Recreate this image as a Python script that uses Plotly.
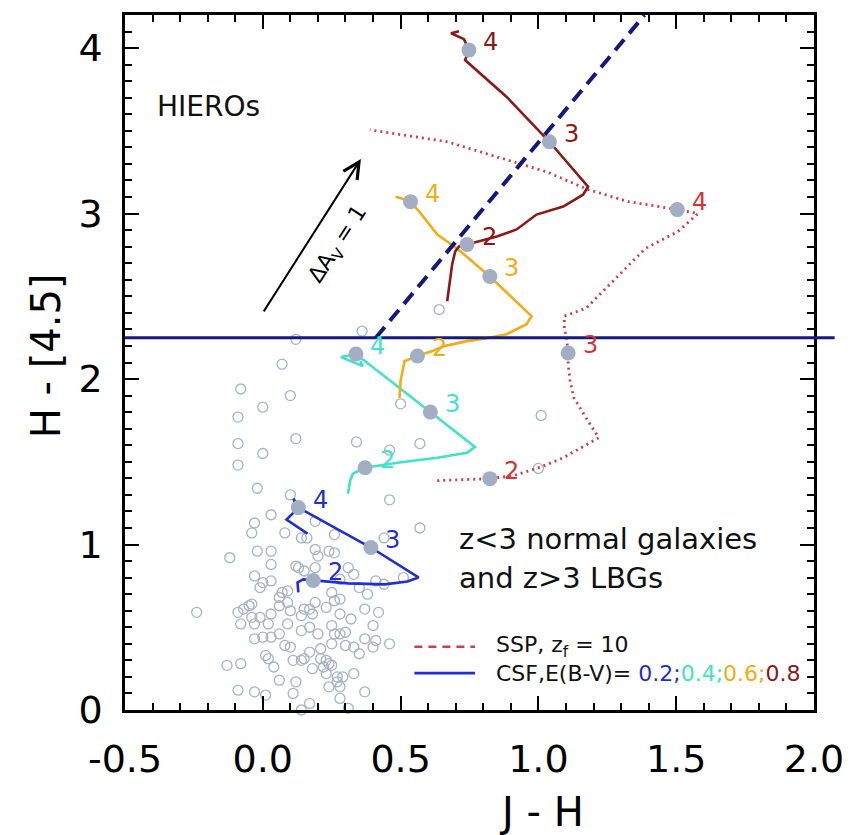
import plotly.graph_objects as go

# ---- comparison sample: z<3 normal galaxies and z>3 LBGs (J-H, H-[4.5]) ----
gal_jh = [-0.02, 0.10, 0.46, 0.03, -0.03, 0.19, -0.04, 0.08, 0.14, 0.16, 0.26, 0.44, 0.57,
          -0.12, -0.02, 0.03, 0.19, 0.24, 0.26, 0.20, 0.03, 0.12, -0.03, 0.13, 0.15, 0.19,
          0.31, 0.33, 0.28, 0.41, 0.51, 0.44, 0.00, 0.03, -0.01, 0.35, 0.25, 0.38, 0.07,
          0.09, -0.24, -0.09, -0.07, -0.05, -0.04, 0.06, 0.06, 0.09, 0.10, 0.15, 0.17, 0.19,
          0.23, 0.26, 0.28, 0.14, 0.18, 0.28, 0.37, 0.42, -0.08, -0.04, -0.03, -0.01, 0.02,
          0.03, 0.09, 0.17, 0.20, 0.25, 0.28, 0.26, 0.30, 0.32, 0.40, 0.14, 0.06, -0.03,
          0.00, 0.03, 0.08, 0.10, 0.21, 0.25, 0.30, 0.33, 0.35, 0.37, 0.41, 0.40, 0.46,
          0.01, 0.02, 0.11, 0.14, 0.15, 0.17, 0.21, 0.23, 0.24, 0.25, 0.22, 0.04, -0.13,
          -0.08, 0.18, 0.23, 0.27, 0.29, 0.33, 0.12, 0.06, 0.24, 0.28, 0.27, -0.09, -0.03,
          0.01, 0.11, 0.17, 0.28, 0.37, 0.14, 0.31,
          0.64, 0.36, 0.12, 0.07, 0.10, 0.00, 0.12, 0.00, 0.34, 0.57, 0.50, 1.01, 1.00,
          0.46, -0.08, -0.09, -0.09, -0.09]
gal_h45 = [1.34, 1.30, 1.27, 1.18, 1.13, 1.14, 1.07, 1.07, 1.04, 1.04, 1.06, 1.04, 1.10,
           0.92, 0.96, 0.96, 0.97, 0.96, 0.95, 0.93, 0.88, 0.87, 0.81, 0.86, 0.84, 0.86,
           0.86, 0.82, 0.79, 0.78, 0.80, 0.76, 0.77, 0.78, 0.74, 0.74, 0.71, 0.70, 0.71,
           0.72, 0.59, 0.59, 0.61, 0.63, 0.64, 0.68, 0.63, 0.65, 0.60, 0.61, 0.61, 0.65,
           0.62, 0.66, 0.67, 0.57, 0.58, 0.58, 0.61, 0.59, 0.52, 0.56, 0.52, 0.56, 0.52,
           0.58, 0.52, 0.50, 0.46, 0.51, 0.46, 0.46, 0.47, 0.55, 0.51, 0.48, 0.46, 0.43,
           0.44, 0.44, 0.39, 0.38, 0.37, 0.40, 0.39, 0.38, 0.34, 0.43, 0.42, 0.38, 0.40,
           0.33, 0.31, 0.30, 0.30, 0.31, 0.35, 0.31, 0.30, 0.28, 0.27, 0.26, 0.26, 0.27,
           0.28, 0.25, 0.22, 0.20, 0.20, 0.22, 0.17, 0.18, 0.14, 0.14, 0.17, 0.12, 0.11,
           0.09, 0.10, 0.04, 0.07, 0.11, 0.00, 0.01,
           2.42, 2.29, 2.24, 2.09, 1.90, 1.83, 1.64, 1.55, 1.62, 1.61, 1.85, 1.78, 1.46,
           1.57, 1.94, 1.77, 1.61, 1.48]

# ---- constant-SF tracks, one per E(B-V) ----
csf02_jh = [0.129, 0.126, 0.147, 0.183, 0.309, 0.442, 0.525, 0.565, 0.392, 0.129, 0.112,
            0.122, 0.086, 0.162]
csf02_h45 = [0.711, 0.771, 0.789, 0.783, 0.765, 0.759, 0.777, 0.801, 0.982, 1.223, 1.277,
             1.210, 1.151, 1.066]

csf04_jh = [0.309, 0.317, 0.327, 0.371, 0.489, 0.633, 0.741, 0.770, 0.608, 0.338, 0.284,
            0.363, 0.353]
csf04_h45 = [1.307, 1.386, 1.428, 1.464, 1.494, 1.524, 1.554, 1.590, 1.801, 2.151, 2.133,
             2.078, 2.108]

csf06_jh = [0.496, 0.500, 0.514, 0.561, 0.615, 0.658, 0.741, 0.813, 0.885, 0.957, 0.975,
            0.824, 0.705, 0.633, 0.568, 0.536, 0.507, 0.482]
csf06_h45 = [1.886, 1.988, 2.108, 2.139, 2.169, 2.199, 2.229, 2.247, 2.271, 2.331, 2.380,
             2.620, 2.789, 2.873, 3.012, 3.072, 3.090, 3.102]

csf08_jh = [0.669, 0.680, 0.687, 0.698, 0.712, 0.741, 0.849, 0.921, 0.993, 1.090, 1.162,
            1.180, 1.040, 0.885, 0.734, 0.748, 0.730, 0.683, 0.712]
csf08_h45 = [2.470, 2.590, 2.693, 2.771, 2.801, 2.813, 2.861, 2.904, 2.994, 3.042, 3.114,
             3.163, 3.434, 3.705, 3.928, 3.988, 4.054, 4.090, 4.102]

# ---- single stellar population, z_f = 10 ----
ssp_jh = [0.633, 0.824, 0.910, 1.011, 1.090, 1.219, 1.173, 1.129, 1.115, 1.108, 1.108,
          1.101, 1.094, 1.094, 1.173, 1.270, 1.388, 1.507, 1.579, 1.504, 1.327, 1.180,
          1.029, 0.849, 0.669, 0.388]
ssp_h45 = [1.386, 1.398, 1.416, 1.470, 1.524, 1.645, 1.765, 1.886, 1.988, 2.090, 2.157,
           2.259, 2.307, 2.380, 2.428, 2.590, 2.789, 2.892, 3.000, 3.024, 3.072, 3.145,
           3.253, 3.343, 3.434, 3.506]

# ---- redshift marks z = 2, 3, 4 along each track ----
z_marks = ["2", "3", "4"]
csf02_z_jh, csf02_z_h45 = [0.183, 0.392, 0.129], [0.783, 0.982, 1.223]
csf04_z_jh, csf04_z_h45 = [0.371, 0.608, 0.338], [1.464, 1.801, 2.151]
csf06_z_jh, csf06_z_h45 = [0.561, 0.824, 0.536], [2.139, 2.620, 3.072]
csf08_z_jh, csf08_z_h45 = [0.741, 1.040, 0.748], [2.813, 3.434, 3.988]
ssp_z_jh, ssp_z_h45 = [0.824, 1.108, 1.504], [1.398, 2.157, 3.024]

# HIERO selection boundaries
hiero_h45_cut = 2.25
diag_jh = [0.41, 1.385]
diag_h45 = [2.25, 4.20]

# reddening vector
av_tail = (0.0, 2.40)
av_head = (0.356, 3.33)

# axis ticks
x_ticks = [-0.5, 0.0, 0.5, 1.0, 1.5, 2.0]
x_ticktext = ["-0.5", "0.0", "0.5", "1.0", "1.5", "2.0"]
y_ticks = [0, 1, 2, 3, 4]

C_BLUE = "#1f2fd2"
C_CYAN = "#3fe3c8"
C_ORANGE = "#f2ac16"
C_DRED = "#8c1818"
C_SSP = "#d23c4a"
C_SSP_TXT = "#d43434"
C_NAVY = "#15187e"
C_MARK = "#a2aec2"
C_GAL = "#a8b2c6"
FONT = "DejaVu Sans"

fig = go.Figure()

fig.add_trace(go.Scatter(
    x=gal_jh, y=gal_h45, mode="markers", cliponaxis=False,
    marker=dict(symbol="circle-open", size=10, color=C_GAL, line=dict(width=1.3, color=C_GAL)),
    showlegend=False, hoverinfo="skip"))

tracks = [
    (ssp_jh, ssp_h45, C_SSP, "2px,4px", ssp_z_jh, ssp_z_h45, C_SSP_TXT),
    (csf02_jh, csf02_h45, C_BLUE, "solid", csf02_z_jh, csf02_z_h45, C_BLUE),
    (csf04_jh, csf04_h45, C_CYAN, "solid", csf04_z_jh, csf04_z_h45, C_CYAN),
    (csf06_jh, csf06_h45, C_ORANGE, "solid", csf06_z_jh, csf06_z_h45, C_ORANGE),
    (csf08_jh, csf08_h45, C_DRED, "solid", csf08_z_jh, csf08_z_h45, C_DRED),
]

for tx, ty, col, dash, mx, my, tcol in tracks:
    fig.add_trace(go.Scatter(
        x=tx, y=ty, mode="lines",
        line=dict(color=col, width=2.6 if dash == "solid" else 2.8, dash=dash),
        showlegend=False, hoverinfo="skip"))

for tx, ty, col, dash, mx, my, tcol in tracks:
    fig.add_trace(go.Scatter(
        x=mx, y=my, mode="markers", cliponaxis=False,
        marker=dict(symbol="circle", size=15, color=C_MARK),
        showlegend=False, hoverinfo="skip"))
    for zx, zy, zl in zip(mx, my, z_marks):
        fig.add_annotation(x=zx, y=zy, text=zl, showarrow=False, xshift=22, yshift=8,
                           font=dict(family=FONT, size=24, color=tcol))

# H-[4.5] > 2.25 cut and the diagonal boundary
fig.add_shape(type="line", xref="paper", yref="y", x0=0, x1=1.03,
              y0=hiero_h45_cut, y1=hiero_h45_cut, line=dict(color=C_NAVY, width=3))
fig.add_shape(type="line", xref="x", yref="y", x0=diag_jh[0], x1=diag_jh[1],
              y0=diag_h45[0], y1=diag_h45[1],
              line=dict(color=C_NAVY, width=4, dash="14px,8px"))

# reddening arrow
fig.add_annotation(x=av_head[0], y=av_head[1], ax=av_tail[0], ay=av_tail[1],
                   axref="x", ayref="y", xref="x", yref="y", text="", showarrow=True,
                   arrowhead=5, arrowsize=1.6, arrowwidth=2, arrowcolor="black")
fig.add_annotation(x=0.273, y=2.81, text="ΔA<sub>V</sub> = 1", showarrow=False,
                   textangle=-57, font=dict(family=FONT, size=22, color="black"))

TXT = "#111111"
fig.add_annotation(x=-0.39, y=3.65, text="HIEROs", showarrow=False, xanchor="left",
                   yanchor="middle", font=dict(family=FONT, size=28, color=TXT))
fig.add_annotation(x=0.705, y=1.036, text="z<3 normal galaxies", showarrow=False,
                   xanchor="left", yanchor="middle", font=dict(family=FONT, size=29, color=TXT))
fig.add_annotation(x=0.705, y=0.795, text="and z>3 LBGs", showarrow=False,
                   xanchor="left", yanchor="middle", font=dict(family=FONT, size=29, color=TXT))

# legend
fig.add_shape(type="line", xref="paper", yref="paper", x0=0.42, x1=0.508, y0=0.091, y1=0.091,
              line=dict(color=C_SSP, width=2.6, dash="8px,6px"))
fig.add_shape(type="line", xref="paper", yref="paper", x0=0.42, x1=0.508, y0=0.053, y1=0.053,
              line=dict(color=C_BLUE, width=2.6))
fig.add_annotation(xref="paper", yref="paper", x=0.535, y=0.091, xanchor="left",
                   yanchor="middle", text="SSP, z<sub>f</sub> = 10", showarrow=False,
                   font=dict(family=FONT, size=22, color=TXT))
fig.add_annotation(
    xref="paper", yref="paper", x=0.535, y=0.053, xanchor="left", yanchor="middle",
    showarrow=False,
    text=("CSF,E(B-V)= "
          f"<span style='color:{C_BLUE}'>0.2;</span>"
          f"<span style='color:{C_CYAN}'>0.4;</span>"
          f"<span style='color:{C_ORANGE}'>0.6;</span>"
          f"<span style='color:{C_DRED}'>0.8</span>"),
    font=dict(family=FONT, size=22, color=TXT))

# axis titles
fig.add_annotation(xref="paper", yref="paper", x=0.604, y=-0.147, text="J - H",
                   xanchor="center", yanchor="middle", showarrow=False,
                   font=dict(family=FONT, size=40, color="black"))
fig.add_annotation(xref="paper", yref="paper", x=-0.115, y=0.51, text="H - [4.5]",
                   xanchor="center", yanchor="middle", textangle=-90, showarrow=False,
                   font=dict(family=FONT, size=40, color="black"))

axis_common = dict(
    showgrid=False, zeroline=False, showline=True, linecolor="black", linewidth=2.5,
    mirror="ticks", ticks="inside", tickcolor="black", tickwidth=2.2, ticklen=14,
    tickfont=dict(family=FONT, size=38, color="black"),
    minor=dict(ticks="inside", ticklen=7, tickwidth=2, tickcolor="black", dtick=0.1),
)
fig.update_xaxes(range=[-0.5, 2.0], tickvals=x_ticks, ticktext=x_ticktext,
                 ticklabelstandoff=14, **axis_common)
fig.update_yaxes(range=[0, 4.2], tickvals=y_ticks, ticklabelstandoff=12, **axis_common)

fig.update_layout(
    width=856, height=835, margin=dict(l=125, r=36, t=14, b=125),
    plot_bgcolor="white", paper_bgcolor="white", showlegend=False,
    font=dict(family=FONT),
)

fig.write_html("out.html")
